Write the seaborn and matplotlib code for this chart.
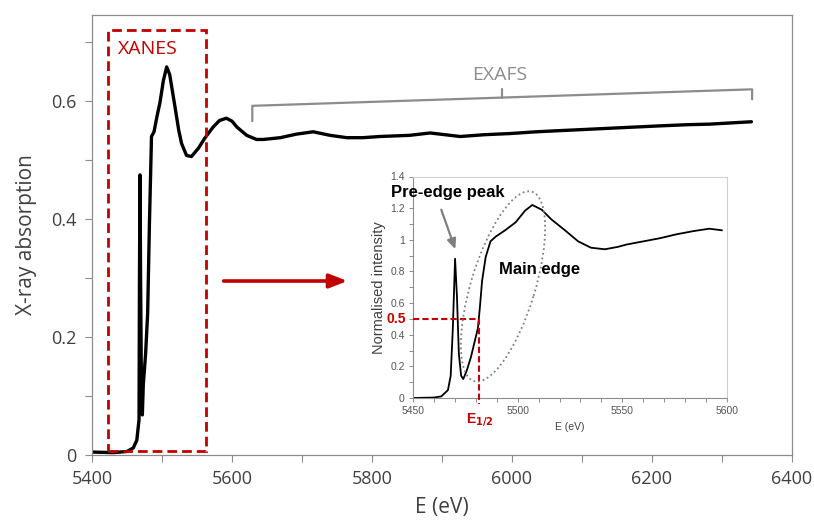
import numpy as np
import pandas as pd
import matplotlib
matplotlib.use("Agg")
import matplotlib.pyplot as plt
import seaborn as sns
from matplotlib.patches import Rectangle, Ellipse
from matplotlib.ticker import MultipleLocator
from matplotlib.transforms import IdentityTransform

# ---------------- data ----------------
# main spectrum: energy (eV) and X-ray absorption
main_E = [5400, 5430, 5450, 5459, 5464, 5467.2, 5467.8, 5468.6, 5469.4, 5470.7,
          5471.9, 5473.3, 5476.5, 5479.5, 5482, 5485, 5488.6, 5493, 5497, 5502,
          5506.7, 5511, 5518.6, 5524, 5528, 5535, 5542, 5552, 5561, 5573,
          5582, 5592, 5600, 5607, 5621, 5635, 5645, 5669, 5692, 5716,
          5740, 5764, 5787, 5811, 5854, 5883, 5926, 5960, 5997, 6035,
          6069, 6105, 6140, 6175, 6211, 6250, 6283, 6342]
main_A = [0.005, 0.004, 0.006, 0.012, 0.025, 0.06, 0.30, 0.475, 0.30, 0.10,
          0.068, 0.12, 0.17, 0.24, 0.39, 0.54, 0.548, 0.575, 0.597, 0.635,
          0.658, 0.645, 0.59, 0.55, 0.528, 0.508, 0.506, 0.52, 0.537, 0.556,
          0.567, 0.571, 0.566, 0.556, 0.542, 0.535, 0.535, 0.538, 0.544, 0.548,
          0.542, 0.538, 0.538, 0.54, 0.542, 0.546, 0.540, 0.543, 0.545, 0.548,
          0.550, 0.552, 0.554, 0.556, 0.558, 0.560, 0.561, 0.565]

# inset (XANES region): energy and normalised intensity
ins_E = [5450, 5460, 5463.5, 5466.7, 5468, 5469, 5470.1, 5471, 5471.9, 5473,
         5474, 5475.6, 5477.7, 5479.7, 5481, 5482, 5483, 5484.7, 5487, 5489.5,
         5494, 5499, 5503.6, 5507, 5511.5, 5516, 5522.6, 5528.9, 5535, 5541.6,
         5547.8, 5552, 5560, 5568, 5576, 5584, 5591.5, 5597.6]
ins_I = [0.0, 0.003, 0.01, 0.05, 0.14, 0.43, 0.88, 0.64, 0.28, 0.14,
         0.12, 0.17, 0.26, 0.37, 0.44, 0.58, 0.74, 0.89, 0.99, 1.02,
         1.06, 1.11, 1.185, 1.22, 1.19, 1.13, 1.06, 0.99, 0.95, 0.94,
         0.955, 0.97, 0.99, 1.01, 1.035, 1.055, 1.07, 1.06]

main_xticks = [5400, 5600, 5800, 6000, 6200, 6400]
main_yticks = [0, 0.2, 0.4, 0.6]
ins_xticks = [5450, 5500, 5550, 5600]
ins_yticks = [0, 0.2, 0.4, 0.6, 0.8, 1, 1.2, 1.4]

xanes_box = (5423, 5563, 0.007, 0.72)     # E0, E1, A0, A1
exafs_range = (5629, 6343)
e_half = 5481.6
half_level = 0.5

# ---------------- style ----------------
sns.set_theme(style="white")
plt.rcParams['font.family'] = ['Open Sans', 'DejaVu Sans']

W, H = 814, 522
fig = plt.figure(figsize=(W / 100, H / 100), dpi=100)

# main axes
ax = fig.add_axes([92 / W, (H - 455) / H, 700 / W, 440 / H])
df_main = pd.DataFrame({"E": main_E, "A": main_A})
sns.lineplot(data=df_main, x="E", y="A", ax=ax, color="black", linewidth=2.4,
             sort=False, estimator=None)
ax.set_xlim(5400, 6400)
ax.set_ylim(0, 0.746)
ax.set_xticks(main_xticks)
ax.set_xticklabels([str(t) for t in main_xticks])
ax.set_yticks(main_yticks)
ax.set_yticklabels(["0", "0.2", "0.4", "0.6"])
ax.xaxis.set_minor_locator(MultipleLocator(100))
ax.yaxis.set_minor_locator(MultipleLocator(0.1))
ax.tick_params(axis='both', which='both', direction='out', length=5, width=0.8,
               color='#8c8c8c', labelsize=13, labelcolor='#404040')
ax.tick_params(axis='x', which='both', bottom=True, pad=6)
ax.tick_params(axis='y', which='both', left=True, pad=6)
ax.set_xlabel("E (eV)", fontsize=15, color='#404040', labelpad=6)
ax.set_ylabel("X-ray absorption", fontsize=15, color='#404040', labelpad=10)
for s in ax.spines.values():
    s.set_color('#8c8c8c')
    s.set_linewidth(0.9)

red = '#c00000'
# XANES dashed box
e0, e1, a0, a1 = xanes_box
ax.add_patch(Rectangle((e0, a0), e1 - e0, a1 - a0, fill=False, edgecolor=red,
                       linewidth=2.0, linestyle=(0, (3.5, 1.8)), zorder=3))
ax.text(5480, 0.688, "XANES", color=red, fontsize=14, ha='center', va='center')

# EXAFS bracket
gray = '#8c8c8c'
x0, x1 = exafs_range
xm = (x0 + x1) / 2
y0b, y1b = 0.592, 0.620
ym = (y0b + y1b) / 2
ax.plot([x0, x0, x1, x1], [0.566, y0b, y1b, 0.603], color=gray, lw=1.6,
        solid_joinstyle='round')
ax.plot([xm, xm], [ym, ym + 0.014], color=gray, lw=1.6)
ax.text(xm - 4, 0.645, "EXAFS", color=gray, fontsize=14, ha='center', va='center')

# red arrow
ax.annotate("", xy=(5765, 0.295), xytext=(5588, 0.295),
            arrowprops=dict(arrowstyle='-|>,head_length=0.9,head_width=0.35',
                            color=red, lw=2.6, shrinkA=0, shrinkB=0))

# ---------------- inset ----------------
ax2 = fig.add_axes([413 / W, (H - 398) / H, 314 / W, 221.5 / H])
df_ins = pd.DataFrame({"E": ins_E, "I": ins_I})
sns.lineplot(data=df_ins, x="E", y="I", ax=ax2, color="black", linewidth=1.3,
             sort=False, estimator=None)
ax2.set_xlim(5450, 5600)
ax2.set_ylim(0, 1.4)
ax2.set_xticks(ins_xticks)
ax2.set_xticklabels([str(t) for t in ins_xticks])
ax2.set_yticks(ins_yticks)
ax2.set_yticklabels(["0", "0.2", "0.4", "0.6", "0.8", "1", "1.2", "1.4"])
ax2.xaxis.set_minor_locator(MultipleLocator(10))
ax2.yaxis.set_minor_locator(MultipleLocator(0.1))
ax2.tick_params(axis='both', which='both', direction='out', length=3, width=0.7,
                color='#8c8c8c', labelsize=7.5, labelcolor='#555555',
                bottom=True, left=True, pad=3)
sansf = ['Liberation Sans', 'DejaVu Sans']
for lbl in ax2.get_xticklabels() + ax2.get_yticklabels():
    lbl.set_family(sansf)
ax2.set_xlabel("E (eV)", fontsize=7.5, color='#404040', labelpad=4, family=sansf)
ax2.set_ylabel("Normalised intensity", fontsize=10.5, color='#404040', labelpad=3,
               family=sansf)
for k, s in ax2.spines.items():
    s.set_linewidth(0.8)
    s.set_color('#8c8c8c' if k in ('left', 'bottom') else '#d0d0d0')
ax2.set_facecolor('white')

# E1/2 dashed guides
ax2.plot([5450, e_half, e_half], [half_level, half_level, -0.04], color=red,
         lw=1.5, linestyle=(0, (3, 1.5)), clip_on=False, zorder=4)
ax2.text(5446.5, half_level, "0.5", color=red, fontsize=10, fontweight='bold',
         ha='right', va='center', family=sansf)
ax2.text(e_half, -0.085, r"E$_{\mathbf{1/2}}$", color=red, fontsize=10, fontweight='bold',
         ha='center', va='top', family=sansf)

# labels and arrow
ax2.text(5466.5, 1.30, "Pre-edge peak", fontsize=12, fontweight='bold', color='black',
         ha='center', va='center', family=sansf, zorder=5)
ax2.annotate("", xy=(5470.2, 0.94), xytext=(5463.5, 1.19),
             arrowprops=dict(arrowstyle='-|>,head_length=0.5,head_width=0.22',
                             color='#808080', lw=1.6, shrinkA=0, shrinkB=0))
ax2.text(5510.5, 0.81, "Main edge", fontsize=12, fontweight='bold', color='black',
         ha='center', va='center', family=sansf)

# dotted ellipse around the main edge (defined in inset data coordinates)
fig.canvas.draw()
cx, cy = ax2.transData.transform((5493, 0.705))
ell = Ellipse((cx, cy), width=198, height=64, angle=73, fill=False,
              edgecolor='#808080', linewidth=1.3, linestyle=(0, (1, 1.6)),
              transform=IdentityTransform())
fig.add_artist(ell)

fig.savefig("out.png", dpi=100, facecolor='white')
